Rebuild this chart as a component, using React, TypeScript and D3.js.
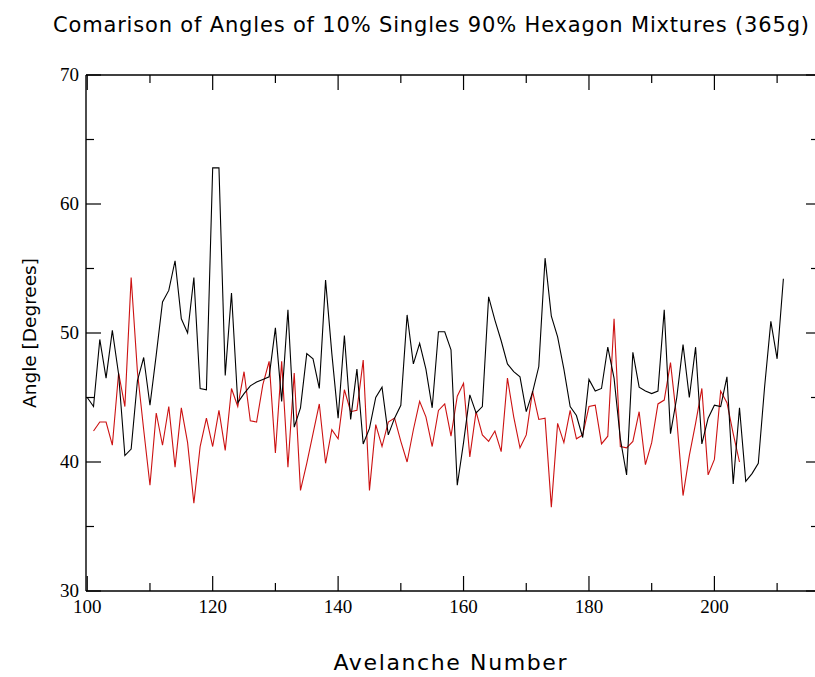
import React from "react";
import * as d3 from "d3";

const blackStart = 100;
const blackValues = [
  45.0, 44.3, 49.5, 46.5, 50.2, 46.8, 40.5, 41.0, 46.3, 48.1,
  44.4, 48.3, 52.4, 53.3, 55.6, 51.1, 50.0, 54.3, 45.7, 45.6,
  62.8, 62.8, 46.7, 53.1, 44.6, 45.3, 45.9, 46.2, 46.4, 46.6,
  50.4, 44.7, 51.8, 42.7, 44.2, 48.4, 48.0, 45.7, 54.1, 48.4,
  43.4, 49.8, 43.3, 47.2, 41.4, 42.6, 45.0, 45.8, 42.1, 43.4,
  44.4, 51.4, 47.6, 49.2, 47.2, 44.2, 50.1, 50.1, 48.7, 38.2,
  41.5, 45.2, 43.8, 44.3, 52.8, 51.0, 49.4, 47.6, 47.0, 46.6,
  43.9, 45.4, 47.4, 55.8, 51.3, 49.7, 47.2, 44.3, 43.6, 41.9,
  46.4, 45.5, 45.7, 48.9, 46.5, 41.8, 39.0, 48.5, 45.8, 45.5,
  45.3, 45.5, 51.8, 42.2, 45.0, 49.1, 45.0, 48.9, 41.4, 43.4,
  44.4, 44.3, 46.6, 38.3, 44.2, 38.5, 39.1, 39.9, 45.8, 50.9,
  48.0, 54.2,
];

const redStart = 101;
const redValues = [
  42.4, 43.1, 43.1, 41.3, 46.9, 44.3, 54.3, 47.0, 42.5,
  38.2, 43.8, 41.3, 44.3, 39.6, 44.2, 41.5, 36.8, 41.2, 43.4,
  41.2, 44.0, 40.9, 45.7, 44.3, 47.0, 43.2, 43.1, 46.0, 47.8,
  40.7, 47.8, 39.6, 46.9, 37.8, 39.9, 42.2, 44.5, 39.9, 42.5,
  41.8, 45.6, 43.9, 44.0, 47.9, 37.8, 42.9, 41.2, 43.1, 43.4,
  41.6, 40.0, 42.5, 44.7, 43.5, 41.2, 44.0, 44.5, 42.0, 45.1,
  46.1, 40.4, 43.9, 42.1, 41.6, 42.4, 40.8, 46.5, 43.5, 41.1,
  42.1, 45.5, 43.3, 43.4, 36.5, 43.0, 41.5, 44.0, 41.8, 42.1,
  44.3, 44.4, 41.4, 42.0, 51.1, 41.2, 41.1, 41.6, 43.9, 39.8,
  41.5, 44.5, 44.8, 47.7, 43.3, 37.4, 40.5, 43.0, 45.7, 39.0,
  40.2, 45.5, 44.6, 42.2, 40.0,
];

const xMajorTicks = [100, 120, 140, 160, 180, 200];
const xMinorTicks = [110, 130, 150, 170, 190, 210];
const yMajorTicks = [30, 40, 50, 60, 70];
const yMinorTicks = [35, 45, 55, 65];

const titleText = "Comarison of Angles of 10% Singles 90% Hexagon Mixtures (365g)";
const xLabel = "Avelanche Number";
const yLabel = "Angle [Degrees]";

export default function App() {
  const W = 815;
  const H = 677;
  const left = 86;
  const right = 816;
  const top = 75;
  const bottom = 591;

  const x = d3.scaleLinear().domain([99.8, 216.2]).range([left, right]);
  const y = d3.scaleLinear().domain([30, 70]).range([bottom, top]);

  const blackPts: [number, number][] = blackValues.map((v, i) => [blackStart + i, v]);
  const redPts: [number, number][] = redValues.map((v, i) => [redStart + i, v]);

  const line = d3
    .line<[number, number]>()
    .x((d) => x(d[0]))
    .y((d) => y(d[1]));

  const serif = "'Liberation Serif', 'Times New Roman', serif";
  const sans = "'DejaVu Sans', Verdana, sans-serif";

  return (
    <svg
      width={W}
      height={H}
      style={{ position: "absolute", left: 0, top: 0, background: "#fff" }}
    >
      <rect x={0} y={0} width={W} height={H} fill="#fff" />
      <text
        x={431}
        y={32}
        textAnchor="middle"
        fontFamily={sans}
        fontSize={21}
        textLength={756}
        lengthAdjust="spacing"
        fill="#000"
      >
        {titleText}
      </text>

      {/* data */}
      <path d={line(redPts) || ""} fill="none" stroke="#cc1111" strokeWidth={1.1} />
      <path d={line(blackPts) || ""} fill="none" stroke="#000" strokeWidth={1.1} />

      {/* frame */}
      <g stroke="#000" strokeWidth={1.4} fill="none">
        <line x1={left} y1={top} x2={right} y2={top} />
        <line x1={left} y1={bottom} x2={right} y2={bottom} />
        <line x1={left} y1={top} x2={left} y2={bottom} />
        <line x1={right} y1={top} x2={right} y2={bottom} />
      </g>

      {/* ticks */}
      <g stroke="#000" strokeWidth={1.2}>
        {xMajorTicks.map((t) => (
          <g key={"xm" + t}>
            <line x1={x(t)} x2={x(t)} y1={bottom} y2={bottom - 15} />
            <line x1={x(t)} x2={x(t)} y1={top} y2={top + 15} />
          </g>
        ))}
        {xMinorTicks.map((t) => (
          <g key={"xn" + t}>
            <line x1={x(t)} x2={x(t)} y1={bottom} y2={bottom - 8} />
            <line x1={x(t)} x2={x(t)} y1={top} y2={top + 8} />
          </g>
        ))}
        {yMajorTicks.map((t) => (
          <g key={"ym" + t}>
            <line x1={left} x2={left + 15} y1={y(t)} y2={y(t)} />
            <line x1={right} x2={right - 10} y1={y(t)} y2={y(t)} />
          </g>
        ))}
        {yMinorTicks.map((t) => (
          <g key={"yn" + t}>
            <line x1={left} x2={left + 8} y1={y(t)} y2={y(t)} />
            <line x1={right} x2={right - 5} y1={y(t)} y2={y(t)} />
          </g>
        ))}
      </g>

      {/* tick labels */}
      <g fontFamily={serif} fontSize={19} fill="#000">
        {xMajorTicks.map((t) => (
          <text key={"xl" + t} x={x(t)} y={613} textAnchor="middle">
            {t}
          </text>
        ))}
        {yMajorTicks.map((t) => (
          <text key={"yl" + t} x={79} y={y(t) + 6} textAnchor="end">
            {t}
          </text>
        ))}
      </g>

      <text
        x={450}
        y={670}
        textAnchor="middle"
        fontFamily={sans}
        fontSize={22}
        textLength={233}
        lengthAdjust="spacing"
        fill="#000"
      >
        {xLabel}
      </text>
      <text
        transform={`translate(36,333) rotate(-90)`}
        textAnchor="middle"
        fontFamily={sans}
        fontSize={18.5}
        fill="#000"
      >
        {yLabel}
      </text>
    </svg>
  );
}
